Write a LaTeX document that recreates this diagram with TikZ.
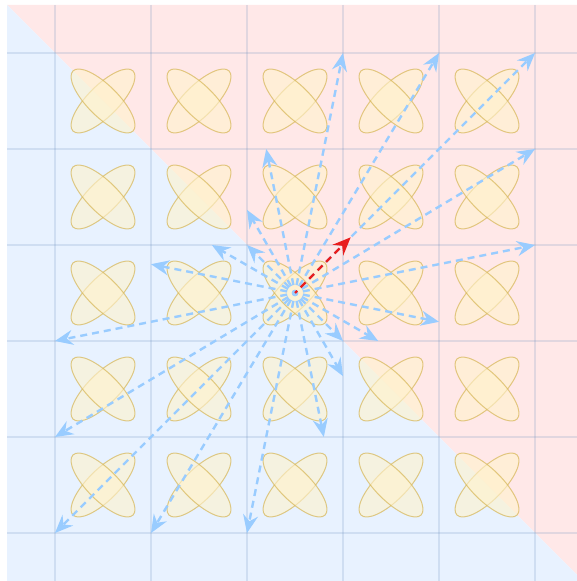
\documentclass[tikz,border=0pt]{standalone}
\usepackage{tikz}
\usetikzlibrary{arrows.meta,shapes.geometric}

\definecolor{zonepink}{RGB}{255,232,232}
\definecolor{zoneblue}{RGB}{232,242,255}
\definecolor{gridblue}{RGB}{108,142,191}
\definecolor{petalfill}{RGB}{255,242,204}
\definecolor{petaldraw}{RGB}{214,182,86}
\definecolor{kblue}{RGB}{153,204,255}
\definecolor{kred}{RGB}{232,30,30}

\begin{document}
\begin{tikzpicture}[
    x=96pt, y=-96pt,
    gridrule/.style={draw=gridblue, draw opacity=0.2, line width=2pt},
    petal/.style={ellipse, draw=petaldraw, draw opacity=0.7, fill=petalfill, fill opacity=0.6, minimum width=85pt, minimum height=31pt, inner sep=0pt, line width=1pt},
    kvec/.style={-{Stealth[length=18pt,width=15pt,inset=6pt]}, dash pattern=on 7pt off 5pt, dash phase=4pt, line width=2.4pt, kblue},
    kvecred/.style={kvec, kred}
]
\useasboundingbox (-0.573,-0.552) rectangle (5.427,5.5);

% Two zones split by the diagonal
\fill[zonepink] (-0.5,-0.5) -- (5.5,-0.5) -- (5.5,5.5) -- cycle;
\fill[zoneblue] (-0.5,-0.5) -- (-0.5,5.5) -- (5.5,5.5) -- cycle;

% Lattice lines
\foreach \k in {0,...,5} {
    \draw[gridrule] (\k,-0.5) -- (\k,5.5);
    \draw[gridrule] (-0.5,\k) -- (5.5,\k);
}

% Crossed ellipses in each cell
\foreach \i in {0,...,4}
    \foreach \j in {0,...,4} {
        \node[petal, rotate=45] (pa-\i-\j) at (\i+0.5,\j+0.5) {};
        \node[petal, rotate=-45] (pb-\i-\j) at (\i+0.5,\j+0.5) {};
    }

% Origin and targets
\coordinate (o) at (2.5,2.5);
\foreach \tx/\ty in {3/0,4/0,5/0,5/1,5/2,2/5,1/5,0/5,0/4,0/3,2/2,3/3}
    \coordinate (g-\tx-\ty) at (\tx,\ty);
\coordinate (k1) at (4.0,2.8);
\coordinate (k2) at (3.366,3.0);
\coordinate (k3) at (3.0,3.366);
\coordinate (k4) at (2.8,4.0);
\coordinate (k5) at (1.0,2.2);
\coordinate (k6) at (1.634,2.0);
\coordinate (k7) at (2.0,1.634);
\coordinate (k8) at (2.2,1.0);
\coordinate (kr) at (3.08,1.92);

% Vectors
\foreach \tx/\ty in {3/0,4/0,5/0,5/1,5/2,2/5,1/5,0/5,0/4,0/3,2/2,3/3}
    \draw[kvec] (o) -- (g-\tx-\ty);
\foreach \n in {1,...,8}
    \draw[kvec] (o) -- (k\n);
\draw[kvecred] (o) -- (kr);
\end{tikzpicture}
\end{document}
